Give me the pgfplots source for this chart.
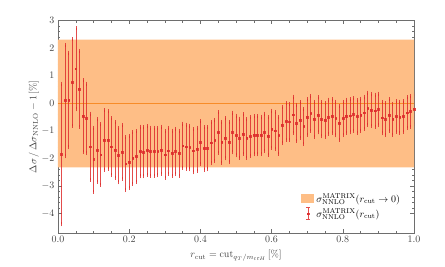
\documentclass[border=0pt]{standalone}
\usepackage{pgfplots}
\pgfplotsset{compat=1.18}
\usepackage{pgfplotstable}
\definecolor{bandc}{RGB}{254,190,134}
\definecolor{linec}{RGB}{247,140,40}
\definecolor{errc}{RGB}{222,45,45}
\definecolor{framec}{RGB}{110,110,110}
\pgfplotstableread{
x y e
0.01 -1.84 2.55
0.02 0.10 2.02
0.03 0.12 1.72
0.04 0.75 1.57
0.05 1.25 1.47
0.06 0.52 1.38
0.07 -0.47 1.30
0.08 -0.55 1.26
0.09 -1.57 1.20
0.10 -2.04 1.16
0.11 -1.71 1.14
0.12 -1.86 1.10
0.13 -1.33 1.07
0.14 -1.33 1.05
0.15 -1.57 1.03
0.16 -1.69 1.00
0.17 -1.89 0.98
0.18 -1.77 0.97
0.19 -2.19 0.96
0.20 -2.13 0.94
0.21 -1.98 0.93
0.22 -1.93 0.91
0.23 -1.75 0.90
0.24 -1.76 0.89
0.25 -1.71 0.88
0.26 -1.75 0.87
0.27 -1.75 0.87
0.28 -1.75 0.86
0.29 -1.70 0.85
0.30 -1.86 0.84
0.31 -1.72 0.83
0.32 -1.81 0.82
0.33 -1.75 0.82
0.34 -1.81 0.81
0.35 -1.54 0.80
0.36 -1.57 0.80
0.37 -1.60 0.79
0.38 -1.72 0.78
0.39 -1.66 0.78
0.40 -1.42 0.77
0.41 -1.64 0.77
0.42 -1.63 0.76
0.43 -1.43 0.75
0.44 -1.35 0.75
0.45 -1.06 0.74
0.46 -1.41 0.74
0.47 -1.27 0.73
0.48 -1.40 0.73
0.49 -1.06 0.72
0.50 -1.17 0.72
0.51 -1.27 0.71
0.52 -1.11 0.71
0.53 -1.27 0.70
0.54 -1.20 0.70
0.55 -1.16 0.69
0.56 -1.16 0.69
0.57 -1.16 0.68
0.58 -1.05 0.68
0.59 -1.18 0.68
0.60 -0.94 0.67
0.61 -0.99 0.67
0.62 -1.17 0.66
0.63 -0.78 0.66
0.64 -0.66 0.66
0.65 -0.67 0.65
0.66 -0.41 0.65
0.67 -0.71 0.65
0.68 -0.60 0.64
0.69 -0.84 0.64
0.70 -0.50 0.64
0.71 -0.37 0.63
0.72 -0.58 0.63
0.73 -0.42 0.63
0.74 -0.58 0.62
0.75 -0.60 0.62
0.76 -0.49 0.62
0.77 -0.46 0.61
0.78 -0.55 0.61
0.79 -0.72 0.61
0.80 -0.55 0.60
0.81 -0.47 0.60
0.82 -0.45 0.60
0.83 -0.40 0.59
0.84 -0.48 0.59
0.85 -0.42 0.59
0.86 -0.34 0.58
0.87 -0.19 0.58
0.88 -0.24 0.58
0.89 -0.27 0.58
0.90 -0.22 0.57
0.91 -0.52 0.57
0.92 -0.57 0.57
0.93 -0.42 0.57
0.94 -0.58 0.56
0.95 -0.48 0.56
0.96 -0.50 0.56
0.97 -0.48 0.56
0.98 -0.34 0.55
0.99 -0.30 0.55
1.00 -0.20 0.55
}\ptsdata
\begin{document}
\begin{tikzpicture}
\path (-58bp,-34bp) rectangle (387bp,233bp);
\begin{axis}[
  at={(0bp,0bp)}, anchor=south west,
  scale only axis, width=356bp, height=212.5bp,
  xmin=0, xmax=1, ymin=-4.7, ymax=3,
  xtick={0,0.2,0.4,0.6,0.8,1.0}, minor x tick num=3,
  ytick={-4,-3,-2,-1,0,1,2,3}, minor y tick num=4,
  tick align=inside,
  major tick length=4bp, minor tick length=2.2bp,
  axis line style={framec, line width=0.6pt},
  tick style={framec, line width=0.5pt},
  tick label style={black!75},
  xticklabel style={/pgf/number format/fixed, /pgf/number format/fixed zerofill, /pgf/number format/precision=1},
  xlabel={$r_{\mathrm{cut}}=\mathrm{cut}_{q_T/m_{t\bar tH}}\,[\%]$},
  ylabel={$\Delta\sigma\,/\,\Delta\sigma_{\mathrm{NNLO}}-1\,[\%]$},
  every axis label/.append style={black!75},
  xlabel style={yshift=-0.5bp},
  ylabel style={yshift=-4bp},
  legend cell align=left,
  legend style={draw=none, fill=none, at={(0.975,0.045)}, anchor=south east, nodes={inner ysep=2.6pt}},
  legend entries={{$\sigma^{\mathrm{MATRIX}}_{\mathrm{NNLO}}(r_{\mathrm{cut}}\rightarrow 0)$},{$\sigma^{\mathrm{MATRIX}}_{\mathrm{NNLO}}(r_{\mathrm{cut}})$}},
]
\addplot[draw=none, fill=bandc,
  legend image code/.code={\fill[bandc] (0bp,-4.5bp) rectangle (13bp,4.5bp);}]
  coordinates {(0,-2.32) (0,2.31) (1,2.31) (1,-2.32) (0,-2.32)};
\addplot[linec, line width=0.8pt, forget plot] coordinates {(0,0) (1,0)};
\addplot[only marks, mark=square*, mark size=0.9bp, errc, opacity=0.85,
  legend image code/.code={%
    \draw[errc, line width=0.6pt] (6.5bp,-6bp) -- (6.5bp,6bp)
      (4.5bp,-6bp) -- (8.5bp,-6bp) (4.5bp,6bp) -- (8.5bp,6bp);
    \fill[errc] (5.6bp,-0.9bp) rectangle (7.4bp,0.9bp);},
  error bars/.cd, y dir=both, y explicit,
  error bar style={line width=0.6pt, errc},
  error mark options={mark size=2bp, line width=0.6pt, errc},
  ] table[x=x, y=y, y error=e] {\ptsdata};
\node[anchor=south east, inner sep=0pt, black!75] at (rel axis cs:1,1) [yshift=3bp]
  {$pp\rightarrow t\bar tH~(qg)$ @ 100 TeV, $\mu_F=\frac{2m_t+m_H}{2}$\,, $\mu_R=\frac{2m_t+m_H}{2}$};
\end{axis}
\end{tikzpicture}
\end{document}
